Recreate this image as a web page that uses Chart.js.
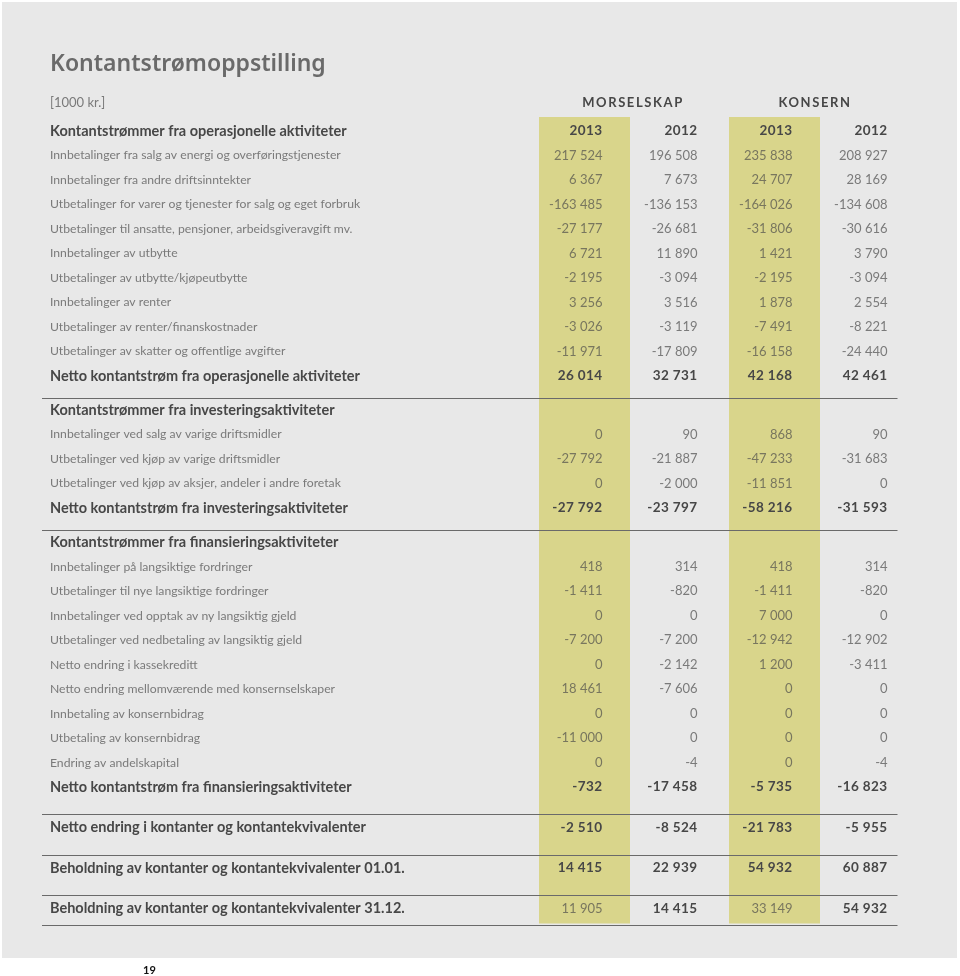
<!DOCTYPE html>
<html lang="no">
<head>
<meta charset="UTF-8">
<title>Kontantstrømoppstilling</title>
<script src="https://cdn.jsdelivr.net/npm/chart.js"></script>
<style>
  html, body { margin: 0; padding: 0; background: #fff; }
</style>
</head>
<body>
<canvas id="cashChart" width="960" height="976"></canvas>
<script>
// --- data (1000 kr.) ---
const groups = ['MORSELSKAP', 'KONSERN'];
const years = ['2013', '2012', '2013', '2012'];

const rowLabels = [
  'Kontantstrømmer fra operasjonelle aktiviteter',
  'Innbetalinger fra salg av energi og overføringstjenester',
  'Innbetalinger fra andre driftsinntekter',
  'Utbetalinger for varer og tjenester for salg og eget forbruk',
  'Utbetalinger til ansatte, pensjoner, arbeidsgiveravgift mv.',
  'Innbetalinger av utbytte',
  'Utbetalinger av utbytte/kjøpeutbytte',
  'Innbetalinger av renter',
  'Utbetalinger av renter/finanskostnader',
  'Utbetalinger av skatter og offentlige avgifter',
  'Netto kontantstrøm fra operasjonelle aktiviteter',
  'Kontantstrømmer fra investeringsaktiviteter',
  'Innbetalinger ved salg av varige driftsmidler',
  'Utbetalinger ved kjøp av varige driftsmidler',
  'Utbetalinger ved kjøp av aksjer, andeler i andre foretak',
  'Netto kontantstrøm fra investeringsaktiviteter',
  'Kontantstrømmer fra finansieringsaktiviteter',
  'Innbetalinger på langsiktige fordringer',
  'Utbetalinger til nye langsiktige fordringer',
  'Innbetalinger ved opptak av ny langsiktig gjeld',
  'Utbetalinger ved nedbetaling av langsiktig gjeld',
  'Netto endring i kassekreditt',
  'Netto endring mellomværende med konsernselskaper',
  'Innbetaling av konsernbidrag',
  'Utbetaling av konsernbidrag',
  'Endring av andelskapital',
  'Netto kontantstrøm fra finansieringsaktiviteter',
  'Netto endring i kontanter og kontantekvivalenter',
  'Beholdning av kontanter og kontantekvivalenter 01.01.',
  'Beholdning av kontanter og kontantekvivalenter 31.12.'
];

// head = section heading, item = line, total = sum line, closing = last line
const rowTypes = [
  'head', 'item', 'item', 'item', 'item', 'item', 'item', 'item', 'item', 'item', 'total',
  'head', 'item', 'item', 'item', 'total',
  'head', 'item', 'item', 'item', 'item', 'item', 'item', 'item', 'item', 'item', 'total',
  'total', 'total', 'closing'
];

const morsel2013 = [null, 217524, 6367, -163485, -27177, 6721, -2195, 3256, -3026, -11971, 26014,
  null, 0, -27792, 0, -27792,
  null, 418, -1411, 0, -7200, 0, 18461, 0, -11000, 0, -732,
  -2510, 14415, 11905];
const morsel2012 = [null, 196508, 7673, -136153, -26681, 11890, -3094, 3516, -3119, -17809, 32731,
  null, 90, -21887, -2000, -23797,
  null, 314, -820, 0, -7200, -2142, -7606, 0, 0, -4, -17458,
  -8524, 22939, 14415];
const konsern2013 = [null, 235838, 24707, -164026, -31806, 1421, -2195, 1878, -7491, -16158, 42168,
  null, 868, -47233, -11851, -58216,
  null, 418, -1411, 7000, -12942, 1200, 0, 0, 0, 0, -5735,
  -21783, 54932, 33149];
const konsern2012 = [null, 208927, 28169, -134608, -30616, 3790, -3094, 2554, -8221, -24440, 42461,
  null, 90, -31683, 0, -31593,
  null, 314, -820, 0, -12902, -3411, 0, 0, 0, -4, -16823,
  -5955, 60887, 54932];

const columns = [morsel2013, morsel2012, konsern2013, konsern2012];

// --- layout in row units (y scale) ---
const rowPos = [];
let p = 0;
rowTypes.forEach((t, i) => {
  if (i > 0) {
    p += 1;
    if (t === 'head') p += 0.39;
    else if (rowTypes[i - 1] !== 'item' && rowTypes[i - 1] !== 'head') p += 0.65;
  }
  rowPos.push(p);
});

const rules = [];
rowTypes.forEach((t, i) => {
  const next = rowTypes[i + 1];
  if (t === 'total' && next === 'head') rules.push(rowPos[i] + 0.9);
  if ((t === 'total' || t === 'closing') && i > 0 && (rowTypes[i - 1] === 'total')) rules.push(rowPos[i] - 0.54);
  if (next === undefined) rules.push(rowPos[i] + 0.68);
});

const shadeTop = -0.57, shadeBottom = rowPos[rowPos.length - 1] + 0.62;

const GREY = '#7a7a7a';
const DARK = '#474747';
const YELLOW = '#d9d58b';
const FONT = 'Lato, "Open Sans", sans-serif';

function fmt(v) {
  const s = Math.abs(v).toString().replace(/\B(?=(\d{3})+(?!\d))/g, ' ');
  return (v < 0 ? '-' : '') + s;
}

function isBold(i) {
  return rowTypes[i] !== 'item';
}

const tablePlugin = {
  id: 'tableText',
  beforeDraw(chart) {
    const ctx = chart.ctx;
    ctx.save();
    ctx.fillStyle = '#ffffff';
    ctx.fillRect(0, 0, chart.width, chart.height);
    ctx.fillStyle = '#e8e8e8';
    ctx.fillRect(2, 2, 955, 956);
    ctx.restore();
  },
  afterDatasetsDraw(chart) {
    const ctx = chart.ctx;
    const xs = chart.scales.x, ys = chart.scales.y;
    ctx.save();

    // horizontal rules
    ctx.strokeStyle = '#6a6a6a';
    ctx.lineWidth = 1.2;
    const xEnd = xs.getPixelForValue(3) + 28;
    rules.forEach(r => {
      const y = Math.round(ys.getPixelForValue(r)) + 0.5;
      ctx.beginPath();
      ctx.moveTo(42, y);
      ctx.lineTo(xEnd, y);
      ctx.stroke();
    });

    // cell values
    ctx.textAlign = 'right';
    ctx.textBaseline = 'middle';
    rowTypes.forEach((t, i) => {
      const y = ys.getPixelForValue(rowPos[i]);
      columns.forEach((col, c) => {
        const x = xs.getPixelForValue(c) + 18;
        let txt, bold;
        if (i === 0) {
          txt = years[c];
          bold = true;
        } else if (col[i] === null) {
          return;
        } else {
          txt = fmt(col[i]);
          bold = t === 'total' || t === 'head' || (t === 'closing' && c % 2 === 1);
        }
        ctx.font = (bold ? 'bold 13.5px ' : '13px ') + FONT;
        ctx.letterSpacing = bold ? '0.4px' : '0px';
        ctx.fillStyle = bold ? DARK : (c % 2 === 0 ? '#78765e' : GREY);
        ctx.fillText(txt, x, y);
      });
    });

    // group headings
    ctx.textAlign = 'center';
    ctx.font = 'bold 13px ' + FONT;
    ctx.fillStyle = DARK;
    ctx.letterSpacing = '1.6px';
    const gy = ys.getPixelForValue(-1.14);
    ctx.fillText(groups[0], (xs.getPixelForValue(0) + xs.getPixelForValue(1)) / 2 + 1, gy);
    ctx.fillText(groups[1], (xs.getPixelForValue(2) + xs.getPixelForValue(3)) / 2 - 7, gy);
    ctx.letterSpacing = '0px';

    // title, unit, page number
    ctx.textAlign = 'left';
    ctx.textBaseline = 'alphabetic';
    ctx.fillStyle = '#6a6a6a';
    ctx.font = '600 23px "Noto Sans", sans-serif';
    ctx.fillText('Kontantstrømoppstilling', 50, 71);
    ctx.textBaseline = 'middle';
    ctx.fillStyle = GREY;
    ctx.font = '13px ' + FONT;
    ctx.fillText('[1000 kr.]', 50, 103);
    ctx.fillStyle = '#111';
    ctx.font = 'bold 11px ' + FONT;
    ctx.fillText('19', 143, 970);
    ctx.restore();
  }
};

new Chart(document.getElementById('cashChart'), {
  type: 'bar',
  data: {
    labels: years,
    datasets: [{
      data: years.map((y, c) => c % 2 === 0 ? [shadeTop, shadeBottom] : null),
      backgroundColor: YELLOW,
      borderWidth: 0,
      barPercentage: 1,
      categoryPercentage: 91 / 95
    }]
  },
  options: {
    responsive: false,
    animation: false,
    events: [],
    layout: { padding: { left: 50, right: 43, top: 106.5, bottom: 36.5 } },
    plugins: { legend: { display: false }, tooltip: { enabled: false } },
    scales: {
      x: { type: 'category', display: false, offset: true },
      y: {
        type: 'linear',
        reverse: true,
        min: -1,
        max: 33,
        grid: { display: false },
        border: { display: false },
        afterBuildTicks: scale => { scale.ticks = rowPos.map(v => ({ value: v })); },
        afterFit: scale => { scale.width = 487; },
        ticks: {
          autoSkip: false,
          crossAlign: 'far',
          padding: 0,
          callback: (v, i) => rowLabels[i],
          color: ctx => isBold(ctx.index) ? DARK : GREY,
          font: ctx => isBold(ctx.index)
            ? { family: FONT, size: 14.5, weight: 'bold' }
            : { family: FONT, size: 12.2, weight: 'normal' }
        }
      }
    }
  },
  plugins: [tablePlugin]
});
</script>
</body>
</html>
